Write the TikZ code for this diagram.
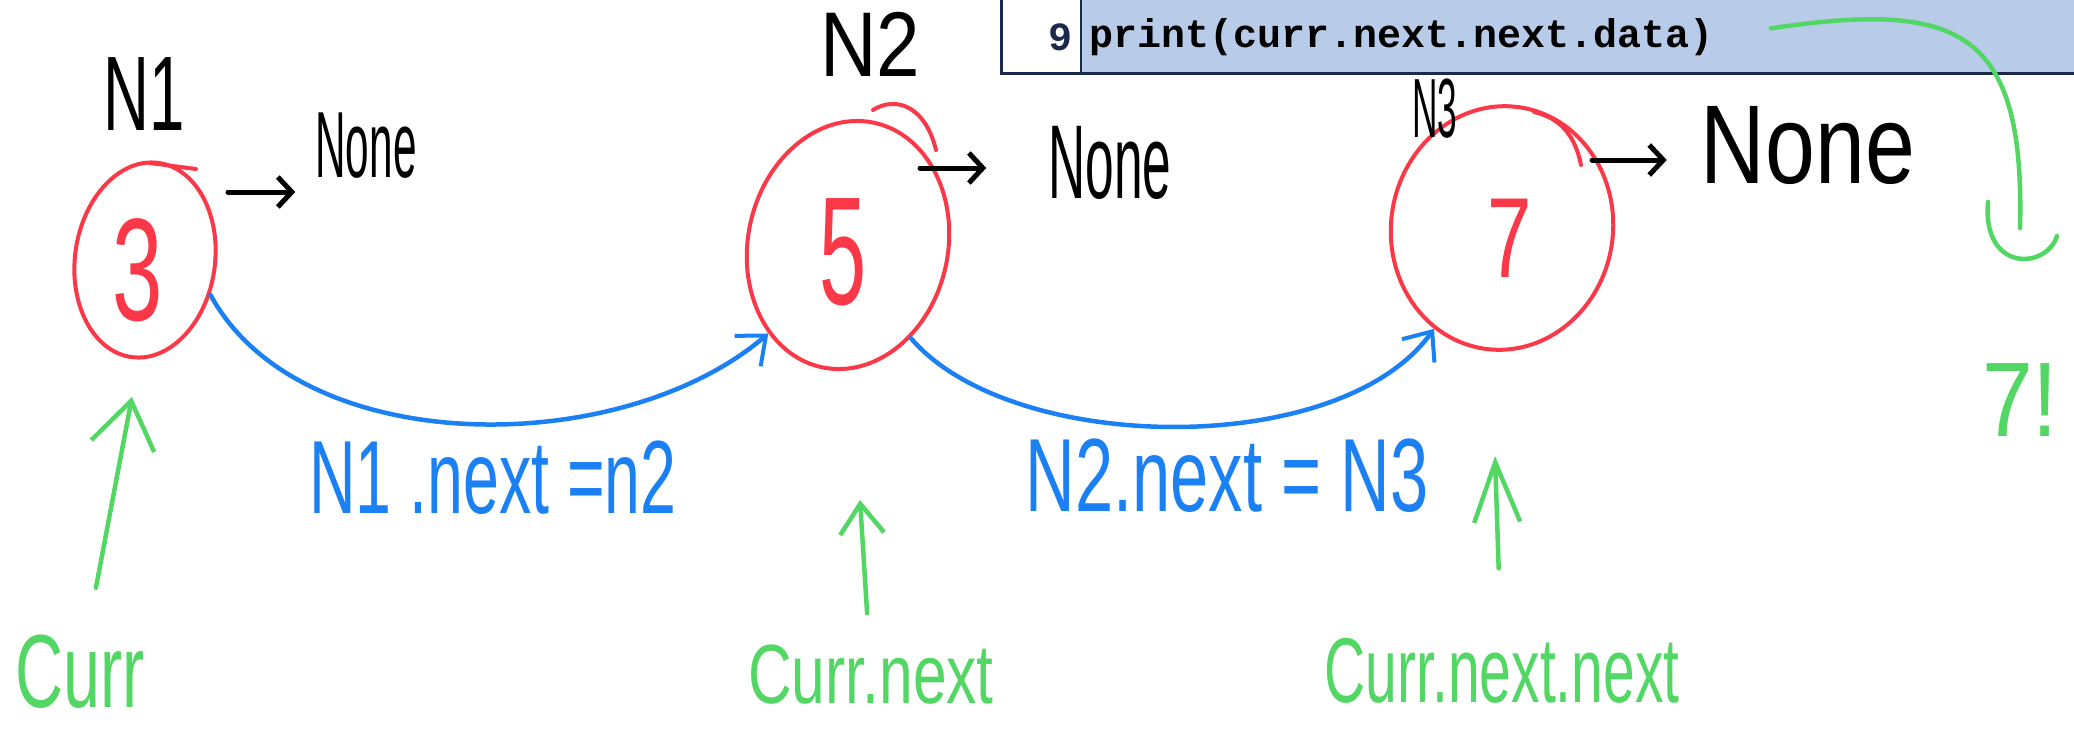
\documentclass[tikz,border=0pt]{standalone}
\usepackage{fontspec}
\usepackage{graphicx}
\setmainfont{Liberation Sans}
\newfontfamily\codefont{Liberation Mono}
\usetikzlibrary{arrows.meta,shapes.geometric}

\definecolor{redink}{RGB}{250,56,72}
\definecolor{blueink}{RGB}{28,128,245}
\definecolor{greenink}{RGB}{82,214,100}
\definecolor{codebg}{RGB}{184,204,234}
\definecolor{navy}{RGB}{27,42,74}

% handwritten-looking label: size, horizontal squeeze, text
\newcommand{\hw}[3]{\fontsize{#1pt}{#1pt}\selectfont\scalebox{#2}[1]{#3}}

\tikzset{
  ring/.style={ellipse, draw=redink, line width=4pt, inner sep=0pt},
  digit/.style={text=redink, inner sep=0pt},
  blk/.style={text=black, inner sep=0pt},
  bluetxt/.style={text=blueink, inner sep=0pt},
  greentxt/.style={text=greenink, inner sep=0pt},
  redstroke/.style={draw=redink, line width=4pt, line cap=round},
  nonearrow/.style={draw=black, line width=5pt, line cap=round,
    -{Straight Barb[length=14pt,width=30pt,line width=5pt]}},
  linkarrow/.style={draw=blueink, line width=4.5pt, line cap=round,
    -{Straight Barb[length=24pt,width=40pt,line width=4pt]}},
  ptrline/.style={draw=greenink, line width=4.5pt, line cap=round},
  codetxt/.style={inner sep=0pt, font=\codefont\bfseries\fontsize{40pt}{48pt}\selectfont}
}

\begin{document}
\begin{tikzpicture}[x=1pt,y=-1pt]
\useasboundingbox (0,0) rectangle (2074,736);

% code panel along the top edge
\begin{scope}
  \clip (0,0) rectangle (2074,736);
  \fill[codebg] (1081,-20) rectangle (2090,73);
  \fill[white] (1001,-20) rectangle (1081,73);
  \draw[navy, line width=2pt] (1081,-20) -- (1081,73);
  \draw[navy, line width=3pt] (1001,-20) -- (1001,73) -- (2090,73);
  \node[codetxt, text=navy] (ln8) at (1060,-14) {8};
\end{scope}
\node[codetxt, text=navy] (ln9) at (1060,37) {9};
\node[codetxt, anchor=west] (code) at (1089,37) {print(curr.next.next.data)};

% list nodes
\node[ring, minimum width=140pt, minimum height=196pt, rotate=-8] (n1) at (145,260) {};
\node[ring, minimum width=200pt, minimum height=250pt, rotate=-12] (n2) at (848,245) {};
\node[ring, minimum width=222pt, minimum height=244pt, rotate=-8] (n3) at (1502,228) {};
\draw[redstroke] (150,163) -- (196,169);
\draw[redstroke] (873,110) .. controls (895,96) and (925,105) .. (936,150);
\draw[redstroke] (1534,112) .. controls (1560,118) and (1575,135) .. (1581,165);

\node[digit] (d1) at (138,270) {\hw{146}{0.62}{3}};
\node[digit] (d2) at (843,252) {\hw{154}{0.55}{5}};
\node[digit] (d3) at (1510,238) {\hw{114}{0.7}{7}};

% node names
\node[blk] (l1) at (144,94) {\hw{106}{0.6}{N1}};
\node[blk] (l2) at (870,44) {\hw{92}{0.85}{N2}};
\node[blk] (l3) at (1435,109) {\hw{84}{0.42}{N3}};

% next fields pointing to None
\node[blk] (none1) at (366,146) {\hw{94}{0.45}{None}};
\node[blk] (none2) at (1110,163) {\hw{105}{0.49}{None}};
\node[blk] (none3) at (1808,146) {\hw{112}{0.8}{None}};
\coordinate (s1) at (228,192);
\coordinate (s2) at (920,168);
\coordinate (s3) at (1592,160);
\draw[nonearrow, shorten >=20pt] (s1) -- (s1 -| none1.west);
\draw[nonearrow, shorten >=62pt] (s2) -- (s2 -| none2.west);
\draw[nonearrow, shorten >=34pt] (s3) -- (s3 -| none3.west);

% links between nodes
\draw[linkarrow] (n1.-20) .. controls (300,460) and (620,460) .. (n2.-120);
\draw[linkarrow] (n2.-44) .. controls (1010,455) and (1340,460) .. (n3.-116);
\node[bluetxt] (e1) at (493,478) {\hw{104}{0.62}{N1 .next =n2}};
\node[bluetxt] (e2) at (1227,476) {\hw{104}{0.66}{N2.next = N3}};

% pointer names
\node[greentxt] (curr) at (80,672) {\hw{104}{0.64}{Curr}};
\node[greentxt] (cn) at (871,675) {\hw{84}{0.72}{Curr.next}};
\node[greentxt] (cnn) at (1502,671) {\hw{92}{0.62}{Curr.next.next}};
\coordinate (t1) at (132,397);
\coordinate (t2) at (860,500);
\coordinate (t3) at (1495,456);
\draw[ptrline, shorten <=48pt, -{Straight Barb[length=46pt,width=64pt,line width=4.5pt]}] (curr) -- (t1);
\draw[ptrline, shorten <=32pt, -{Straight Barb[length=30pt,width=44pt,line width=4.5pt]}] (cn) -- (t2);
\draw[ptrline, shorten <=70pt, -{Straight Barb[length=60pt,width=46pt,line width=4.5pt]}] (cnn) -- (t3);

% printed value
\coordinate (hk) at (2020,228);
\draw[ptrline, shorten <=58pt] (code.east) .. controls (1960,0) and (2025,30) .. (hk);
\draw[ptrline] (1988,202) .. controls (1982,272) and (2046,270) .. (2057,236);
\node[greentxt] (out) at (2020,400) {\hw{106}{0.86}{7!}};
\end{tikzpicture}
\end{document}
